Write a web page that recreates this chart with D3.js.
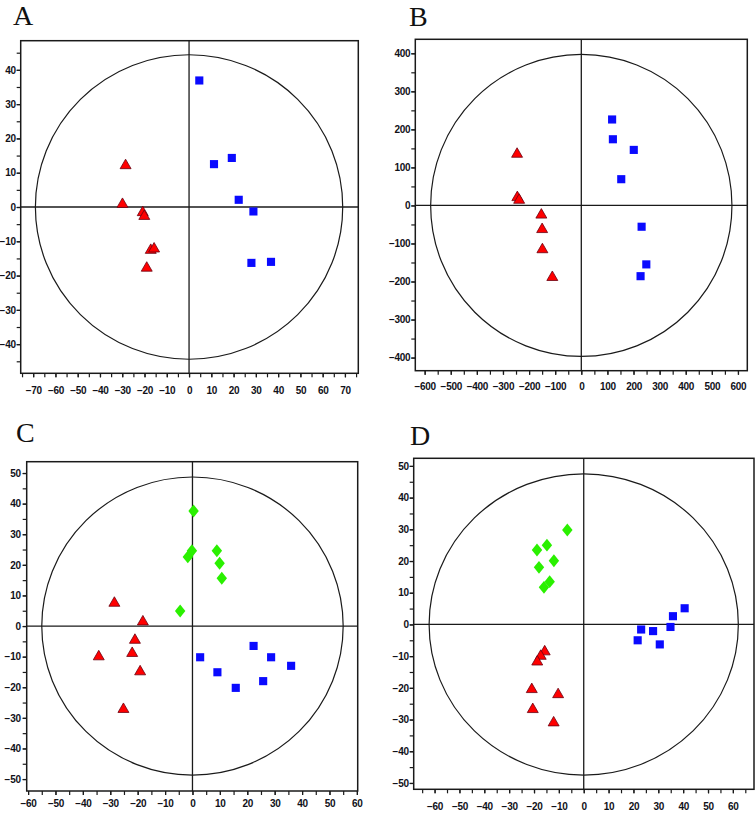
<!DOCTYPE html>
<html>
<head>
<meta charset="utf-8">
<script src="https://cdn.jsdelivr.net/npm/d3@7"></script>
<style>
  html, body { margin: 0; padding: 0; background: #fff; }
  svg { display: block; }
  .tick text { font-family: "Liberation Sans", Arial, sans-serif; font-weight: bold; font-size: 10px; fill: #111118; letter-spacing: -0.3px; }
</style>
</head>
<body>
<svg id="chart" width="756" height="813"></svg>
<script>
// ---------------- DATA ----------------
const panelLabels = ["A", "B", "C", "D"];

// Panel A
const aTriangles = [[-28.5, 12.1], [-29.9, 0.8], [-20.8, -1.6], [-20.1, -2.7], [-17.2, -12.6], [-15.7, -12.2], [-19.0, -17.8]];
const aSquares   = [[4.6, 36.9], [11.2, 12.5], [19.2, 14.3], [22.3, 2.1], [28.9, -1.3], [28.0, -16.3], [36.8, -16.0]];
const aEllipse   = [69, 44.4];
const aXTicks    = [-70, -60, -50, -40, -30, -20, -10, 0, 10, 20, 30, 40, 50, 60, 70];
const aYTicks    = [-40, -30, -20, -10, 0, 10, 20, 30, 40];

// Panel B
const bTriangles = [[-246, 135], [-245, 21], [-238, 14], [-153, -25], [-150, -63], [-149, -116], [-111, -189]];
const bSquares   = [[118, 226], [121, 174], [201, 146], [153, 69], [231, -56], [249, -155], [227, -186]];
const bEllipse   = [577, 397];
const bXTicks    = [-600, -500, -400, -300, -200, -100, 0, 100, 200, 300, 400, 500, 600];
const bYTicks    = [-400, -300, -200, -100, 0, 100, 200, 300, 400];

// Panel C
const cTriangles = [[-28.5, 7.5], [-18.1, 1.4], [-21.0, -4.6], [-34.2, -10.0], [-22.0, -8.9], [-19.1, -14.9], [-25.2, -27.2]];
const cSquares   = [[2.8, -10.2], [9.1, -15.1], [15.8, -20.2], [22.3, -6.5], [28.7, -10.2], [25.8, -18.0], [36.0, -13.0]];
const cDiamonds  = [[0.4, 37.6], [-0.2, 24.6], [-1.7, 22.6], [8.9, 24.6], [9.9, 20.5], [10.7, 15.6], [-4.5, 4.9]];
const cEllipse   = [55, 48.7];
const cXTicks    = [-60, -50, -40, -30, -20, -10, 0, 10, 20, 30, 40, 50, 60];
const cYTicks    = [-50, -40, -30, -20, -10, 0, 10, 20, 30, 40, 50];

// Panel D
const dTriangles = [[-15.7, -8.6], [-17.3, -10.0], [-18.7, -11.8], [-20.9, -20.5], [-10.3, -22.1], [-20.5, -26.8], [-12.1, -31.0]];
const dSquares   = [[40.6, 5.1], [35.9, 2.6], [34.9, -0.8], [23.1, -1.6], [21.7, -5.0], [27.9, -2.1], [30.6, -6.3]];
const dDiamonds  = [[-6.6, 29.8], [-18.8, 23.5], [-14.8, 25.0], [-12.0, 20.1], [-18.0, 18.0], [-13.7, 13.5], [-16.0, 11.7]];
const dEllipse   = [62.2, 47.5];
const dXTicks    = [-60, -50, -40, -30, -20, -10, 0, 10, 20, 30, 40, 50, 60];
const dYTicks    = [-50, -40, -30, -20, -10, 0, 10, 20, 30, 40, 50];

// ---------------- LAYOUT ----------------
const panels = [
  { label: panelLabels[0], lx: 13, ly: 25, box: [20.7, 358.3, 40.7, 373.3], xd: [-75.6, 76.0], yd: [-48.5, 48.5],
    minor: 5, xPad: 10, yPad: 1, tri: aTriangles, sq: aSquares, dia: [], ell: aEllipse, xt: aXTicks, yt: aYTicks },
  { label: panelLabels[1], lx: 409, ly: 26, box: [415.3, 747.3, 39.3, 370.7], xd: [-635.8, 635.8], yd: [-434.5, 436.8],
    minor: 50, xPad: 8, yPad: 1, tri: bTriangles, sq: bSquares, dia: [], ell: bEllipse, xt: bXTicks, yt: bYTicks },
  { label: panelLabels[2], lx: 16, ly: 442, box: [26.7, 357.7, 461.7, 791], xd: [-60.5, 60.3], yd: [-53.9, 53.7],
    minor: 5, xPad: 5, yPad: 2, tri: cTriangles, sq: cSquares, dia: cDiamonds, ell: cEllipse, xt: cXTicks, yt: cYTicks },
  { label: panelLabels[3], lx: 410, ly: 445, box: [413.7, 754, 458.3, 789.3], xd: [-68.4, 68.5], yd: [-52, 52.4],
    minor: 5, xPad: 10, yPad: 1, tri: dTriangles, sq: dSquares, dia: dDiamonds, ell: dEllipse, xt: dXTicks, yt: dYTicks }
];

const svg = d3.select("#chart");

const diamondSymbol = {
  draw(ctx, size) {
    const w = Math.sqrt(size) * 0.55, h = Math.sqrt(size) * 0.68;
    ctx.moveTo(0, -h); ctx.lineTo(w, 0); ctx.lineTo(0, h); ctx.lineTo(-w, 0); ctx.closePath();
  }
};

panels.forEach(p => {
  const [x0, x1, y0, y1] = p.box;
  const sx = d3.scaleLinear().domain(p.xd).range([x0, x1]);
  const sy = d3.scaleLinear().domain(p.yd).range([y1, y0]);
  const g = svg.append("g");

  // panel letter
  svg.append("text")
    .attr("x", p.lx).attr("y", p.ly)
    .attr("font-family", "Liberation Serif, Times New Roman, serif")
    .attr("font-size", 28)
    .attr("fill", "#111")
    .text(p.label);

  // frame
  g.append("rect")
    .attr("x", x0).attr("y", y0).attr("width", x1 - x0).attr("height", y1 - y0)
    .attr("fill", "none").attr("stroke", "#1a1a1a").attr("stroke-width", 1.5);

  // minor ticks
  const minorX = d3.range(Math.ceil(p.xd[0] / p.minor) * p.minor, p.xd[1] + 1e-9, p.minor);
  const minorY = d3.range(Math.ceil(p.yd[0] / p.minor) * p.minor, p.yd[1] + 1e-9, p.minor);

  const xMinor = g.append("g").attr("transform", `translate(0,${y1})`)
    .call(d3.axisBottom(sx).tickValues(minorX).tickSize(4).tickSizeOuter(0).tickFormat(""));
  xMinor.select(".domain").remove();
  xMinor.selectAll("line").attr("stroke", "#1a1a1a").attr("stroke-width", 1.2);

  const yMinor = g.append("g").attr("transform", `translate(${x0},0)`)
    .call(d3.axisLeft(sy).tickValues(minorY).tickSize(4).tickSizeOuter(0).tickFormat(""));
  yMinor.select(".domain").remove();
  yMinor.selectAll("line").attr("stroke", "#1a1a1a").attr("stroke-width", 1.2);

  // labelled axes
  const xAx = g.append("g").attr("transform", `translate(0,${y1})`)
    .call(d3.axisBottom(sx).tickValues(p.xt).tickSize(4).tickSizeOuter(0).tickPadding(p.xPad).tickFormat(d3.format("d")));
  xAx.select(".domain").remove();
  xAx.selectAll("line").attr("stroke", "#1a1a1a").attr("stroke-width", 1.2);

  const yAx = g.append("g").attr("transform", `translate(${x0},0)`)
    .call(d3.axisLeft(sy).tickValues(p.yt).tickSize(4).tickSizeOuter(0).tickPadding(p.yPad).tickFormat(d3.format("d")));
  yAx.select(".domain").remove();
  yAx.selectAll("line").attr("stroke", "#1a1a1a").attr("stroke-width", 1.2);

  g.selectAll(".tick text").attr("font-family", null).attr("font-size", null);

  // ellipse
  g.append("ellipse")
    .attr("cx", sx(0)).attr("cy", sy(0))
    .attr("rx", sx(p.ell[0]) - sx(0)).attr("ry", sy(0) - sy(p.ell[1]))
    .attr("fill", "none").attr("stroke", "#1a1a1a").attr("stroke-width", 1.2);

  // zero lines
  g.append("line").attr("x1", x0).attr("x2", x1).attr("y1", sy(0)).attr("y2", sy(0))
    .attr("stroke", "#1a1a1a").attr("stroke-width", 1.3);
  g.append("line").attr("x1", sx(0)).attr("x2", sx(0)).attr("y1", y0).attr("y2", y1)
    .attr("stroke", "#1a1a1a").attr("stroke-width", 1.3);

  // squares
  g.selectAll(".sq").data(p.sq).enter().append("path")
    .attr("d", d3.symbol().type(d3.symbolSquare).size(66))
    .attr("transform", d => `translate(${sx(d[0])},${sy(d[1])})`)
    .attr("fill", "#0a0aff");

  // diamonds
  g.selectAll(".dia").data(p.dia).enter().append("path")
    .attr("d", d3.symbol().type(diamondSymbol).size(90))
    .attr("transform", d => `translate(${sx(d[0])},${sy(d[1])})`)
    .attr("fill", "#2af000");

  // triangles
  g.selectAll(".tri").data(p.tri).enter().append("path")
    .attr("d", d3.symbol().type(d3.symbolTriangle).size(52))
    .attr("transform", d => `translate(${sx(d[0])},${sy(d[1])})`)
    .attr("fill", "#ff0000").attr("stroke", "#6a0010").attr("stroke-width", 0.8);
});
</script>
</body>
</html>
